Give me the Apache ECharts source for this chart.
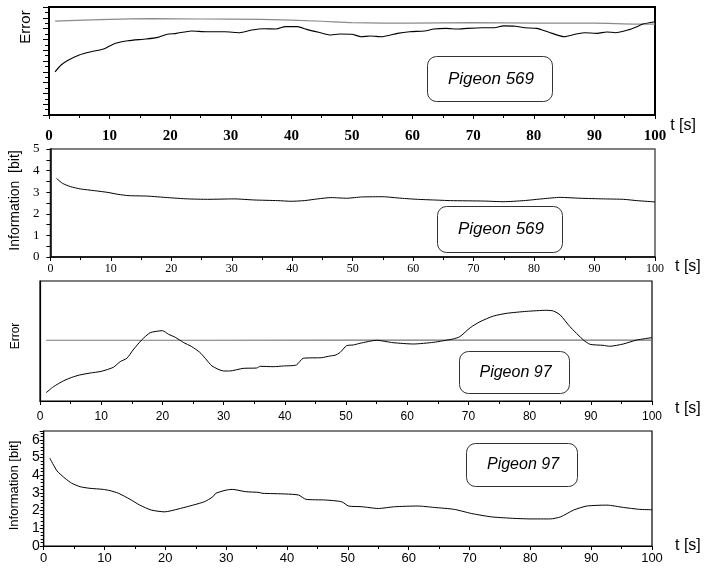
<!DOCTYPE html>
<html>
<head>
<meta charset="utf-8">
<script src="https://cdn.jsdelivr.net/npm/echarts@6/dist/echarts.min.js"></script>
<style>
  html, body { margin: 0; padding: 0; background: #fff; }
  #chart { width: 713px; height: 569px; }
</style>
</head>
<body>
<div id="chart"></div>
<script>
// Pigeon 569 – error trace (black) and reference level (grey), arbitrary units 0..1
const tErr569 = [1, 2, 3, 5, 7, 9, 10, 11, 13, 16, 18, 19.5, 21, 23.5, 26, 29, 31.5, 33.5, 35.5, 37.5, 39, 41, 42.5, 44.5, 46.5, 48, 50, 51.5, 53, 55, 57.5, 59.5, 62, 63.5, 65.5, 67.5, 69, 71.5, 73.5, 75, 77, 78.5, 80.5, 82.5, 85, 87, 88.5, 90.5, 92, 93.5, 95.5, 97, 98, 100];
const err569 = [0.40, 0.463, 0.503, 0.556, 0.586, 0.611, 0.639, 0.664, 0.688, 0.704, 0.719, 0.747, 0.756, 0.778, 0.771, 0.771, 0.762, 0.787, 0.799, 0.796, 0.818, 0.818, 0.793, 0.766, 0.741, 0.75, 0.747, 0.725, 0.731, 0.725, 0.756, 0.771, 0.778, 0.796, 0.802, 0.796, 0.802, 0.808, 0.808, 0.825, 0.822, 0.808, 0.802, 0.766, 0.725, 0.75, 0.762, 0.756, 0.769, 0.762, 0.787, 0.818, 0.843, 0.864];
const tRef569 = [1, 10, 17, 25, 35, 45, 50, 60, 70, 80, 90, 97, 100];
const ref569 = [0.870, 0.886, 0.892, 0.889, 0.886, 0.868, 0.855, 0.850, 0.855, 0.850, 0.850, 0.842, 0.842];

// Pigeon 569 – information [bit]
const tInfo569 = [1, 2, 3.3, 5, 7.3, 9.5, 11.2, 13, 16, 19.4, 22.7, 26, 30.4, 33.7, 37.6, 39.8, 42, 44.2, 46.4, 49, 51.5, 55, 58, 60.7, 63.4, 66.2, 71.7, 75, 78.3, 81.6, 84.3, 87.6, 91.5, 94.8, 97, 100];
const info569 = [3.64, 3.41, 3.26, 3.15, 3.07, 2.99, 2.90, 2.84, 2.82, 2.75, 2.69, 2.67, 2.69, 2.64, 2.61, 2.58, 2.61, 2.69, 2.75, 2.72, 2.78, 2.79, 2.72, 2.67, 2.64, 2.61, 2.59, 2.56, 2.61, 2.70, 2.76, 2.72, 2.69, 2.67, 2.61, 2.55];

// Pigeon 97 – error trace (black) and reference level (grey)
const tErr97 = [1, 2.2, 3.8, 5.2, 6.5, 8.2, 10, 12, 13.1, 14.2, 15.2, 16.6, 18, 20, 21, 22.1, 23.4, 24.8, 26.1, 27, 28.1, 30, 31, 33.2, 35.4, 36, 38.1, 39.8, 41.9, 43, 46, 47.4, 48.2, 49, 50.1, 51.2, 52.3, 55, 57.7, 61, 64.3, 67.5, 68.6, 70.3, 71.9, 74.1, 76.3, 79.5, 82.8, 83.9, 85, 86.6, 88.8, 89.9, 92, 93.1, 95.3, 97.5, 100];
const err97 = [0.069, 0.119, 0.167, 0.197, 0.217, 0.233, 0.247, 0.281, 0.328, 0.356, 0.425, 0.508, 0.569, 0.586, 0.556, 0.531, 0.489, 0.453, 0.406, 0.356, 0.292, 0.25, 0.25, 0.272, 0.275, 0.289, 0.286, 0.292, 0.30, 0.356, 0.361, 0.375, 0.381, 0.403, 0.461, 0.467, 0.481, 0.506, 0.486, 0.475, 0.489, 0.517, 0.536, 0.611, 0.661, 0.708, 0.731, 0.747, 0.756, 0.75, 0.717, 0.619, 0.508, 0.472, 0.464, 0.456, 0.475, 0.508, 0.528];
const tRef97 = [1, 50, 100];
const ref97 = [0.506, 0.507, 0.507];

// Pigeon 97 – information [bit]
const tInfo97 = [1, 2.2, 3.5, 4.6, 6, 7.6, 9.8, 10.9, 12.3, 14.2, 15.8, 17.7, 19.9, 22.1, 24, 26.4, 27.8, 28.3, 30, 31, 33.2, 35.4, 35.9, 39.8, 41.9, 43.1, 46.3, 49, 50.1, 52.3, 55, 57.7, 61.5, 64.2, 67.5, 70.3, 73.5, 76.8, 80.1, 83.3, 85, 87.1, 89.3, 92.6, 95.3, 98, 100];
const info97 = [4.97, 4.24, 3.83, 3.55, 3.35, 3.26, 3.20, 3.13, 2.98, 2.64, 2.31, 2.03, 1.93, 2.09, 2.26, 2.5, 2.78, 2.98, 3.16, 3.20, 3.07, 3.03, 2.98, 2.94, 2.88, 2.64, 2.60, 2.50, 2.26, 2.22, 2.12, 2.22, 2.26, 2.18, 2.07, 1.84, 1.65, 1.57, 1.53, 1.53, 1.65, 2.03, 2.26, 2.31, 2.18, 2.07, 2.05];

const panelLabels = ['Pigeon 569', 'Pigeon 569', 'Pigeon 97', 'Pigeon 97'];
const timeTicks = { min: 0, max: 100, step: 10 };

const zip = (xs, ys) => xs.map((x, i) => [x, ys[i]]);

const SANS = 'Liberation Sans, Arial, Helvetica, sans-serif';
const SERIF = 'Liberation Serif, Times New Roman, serif';

const grids = [
  { left: 49, top: 7, width: 606, height: 108, show: true, borderColor: '#000', borderWidth: 2 },
  { left: 49, top: 149, width: 606, height: 108, show: true, borderColor: '#555', borderWidth: 1.5 },
  { left: 40, top: 281, width: 612, height: 120, show: true, borderColor: '#000', borderWidth: 1.2 },
  { left: 40, top: 431, width: 612, height: 115, show: true, borderColor: '#000', borderWidth: 1.2 }
];

function timeAxis(i, label, name, axisWidth) {
  return {
    type: 'value', gridIndex: i,
    min: timeTicks.min, max: timeTicks.max, interval: timeTicks.step,
    axisLine: { show: true, onZero: false, lineStyle: { color: '#000', width: axisWidth } },
    axisTick: { show: true, inside: false, length: 4, lineStyle: { color: '#000', width: 1 } },
    minorTick: { show: true, splitNumber: 2, length: 3, lineStyle: { color: '#000', width: 1 } },
    splitLine: { show: false },
    axisLabel: Object.assign({ color: '#000' }, label),
    name: 't [s]', nameLocation: 'end', nameGap: name.gap,
    nameTextStyle: { fontFamily: SANS, fontSize: 16, color: '#000', verticalAlign: name.va, padding: name.pad }
  };
}

const xAxes = [
  timeAxis(0, { fontFamily: SERIF, fontWeight: 'bold', fontSize: 15, margin: 14 }, { gap: 10, va: 'top', pad: [3, 0, 0, 0] }, 2),
  timeAxis(1, { fontFamily: SERIF, fontSize: 12, margin: 6 }, { gap: 20, va: 'top', pad: [2, 0, 0, 0] }, 1.5),
  timeAxis(2, { fontFamily: SANS, fontSize: 12, margin: 10 }, { gap: 23, va: 'top', pad: [0, 0, 0, 0] }, 1.2),
  timeAxis(3, { fontFamily: SANS, fontSize: 13, margin: 6 }, { gap: 23, va: 'middle', pad: [0, 0, 0, 0] }, 1.2)
];

const yAxes = [
  {
    type: 'value', gridIndex: 0, min: 0, max: 1, interval: 0.1,
    axisLine: { show: true, lineStyle: { color: '#000', width: 2 } },
    axisTick: { show: true, length: 6, lineStyle: { color: '#000', width: 1 } },
    minorTick: { show: true, splitNumber: 2, length: 4, lineStyle: { color: '#000', width: 1 } },
    axisLabel: { show: false }, splitLine: { show: false },
    name: 'Error', nameLocation: 'middle', nameGap: 16,
    nameTextStyle: { fontFamily: SANS, fontSize: 15, color: '#000', padding: [0, 0, 0, 68] }
  },
  {
    type: 'value', gridIndex: 1, min: 0, max: 5, interval: 1,
    axisLine: { show: true, lineStyle: { color: '#000', width: 1.5 } },
    axisTick: { show: true, length: 4, lineStyle: { color: '#000', width: 1 } },
    minorTick: { show: true, splitNumber: 2, length: 4, lineStyle: { color: '#000', width: 1 } },
    axisLabel: { fontFamily: SERIF, fontSize: 13, color: '#000', margin: 11 }, splitLine: { show: false },
    name: 'Information  [bit]', nameLocation: 'middle', nameGap: 24,
    nameTextStyle: { fontFamily: SANS, fontSize: 14, color: '#000', padding: [0, 0, 0, 5] }
  },
  {
    type: 'value', gridIndex: 2, min: 0, max: 1,
    axisLine: { show: true, lineStyle: { color: '#000', width: 1.2 } },
    axisTick: { show: false }, axisLabel: { show: false }, splitLine: { show: false },
    name: 'Error', nameLocation: 'middle', nameGap: 18,
    nameTextStyle: { fontFamily: SANS, fontSize: 12, color: '#000', padding: [0, 0, 0, 10] }
  },
  {
    type: 'value', gridIndex: 3, min: 0, max: 6.5, interval: 1,
    axisLine: { show: true, lineStyle: { color: '#000', width: 1.2 } },
    axisTick: { show: true, length: 4, lineStyle: { color: '#000', width: 1 } },
    minorTick: { show: true, splitNumber: 5, length: 3, lineStyle: { color: '#000', width: 1 } },
    axisLabel: {
      fontFamily: SANS, fontSize: 14, color: '#000', margin: 4,
      formatter: v => (Number.isInteger(v) ? String(v) : '')
    },
    splitLine: { show: false },
    name: 'Information [bit]', nameLocation: 'middle', nameGap: 22,
    nameTextStyle: { fontFamily: SANS, fontSize: 13, color: '#000', padding: [0, 0, 0, 6] }
  }
];

function lineSeries(i, data, color, width) {
  return {
    type: 'line', xAxisIndex: i, yAxisIndex: i, data: data,
    showSymbol: false, symbol: 'none', smooth: 0.2,
    lineStyle: { color: color, width: width }, silent: true, animation: false
  };
}

const series = [
  lineSeries(0, zip(tRef569, ref569), '#8a8a8a', 1.2),
  lineSeries(0, zip(tErr569, err569), '#000', 1.1),
  lineSeries(1, zip(tInfo569, info569), '#000', 1),
  lineSeries(2, zip(tRef97, ref97), '#777', 1.1),
  lineSeries(2, zip(tErr97, err97), '#000', 1),
  lineSeries(3, zip(tInfo97, info97), '#000', 1)
];

// Rounded caption boxes inside each panel
const boxes = [
  { x: 427, y: 56, w: 125, h: 45, size: 17 },
  { x: 437, y: 206, w: 125, h: 46, size: 17 },
  { x: 459, y: 351, w: 110, h: 42, size: 16 },
  { x: 466, y: 443, w: 111, h: 43, size: 16 }
];
const graphic = boxes.map((b, i) => ({
  type: 'group', left: b.x, top: b.y, silent: true,
  children: [
    { type: 'rect', shape: { x: 0, y: 0, width: b.w, height: b.h, r: 9 },
      style: { fill: '#fff', stroke: '#333', lineWidth: 1 } },
    { type: 'text', x: b.w / 2 + 1, y: b.h / 2,
      style: { text: panelLabels[i], fontFamily: SANS, fontStyle: 'italic', fontSize: b.size,
               fill: '#000', align: 'center', verticalAlign: 'middle' } }
  ]
}));

const chart = echarts.init(document.getElementById('chart'), null, { renderer: 'canvas' });
chart.setOption({
  animation: false,
  backgroundColor: '#fff',
  grid: grids,
  xAxis: xAxes,
  yAxis: yAxes,
  series: series,
  graphic: graphic
});
</script>
</body>
</html>
